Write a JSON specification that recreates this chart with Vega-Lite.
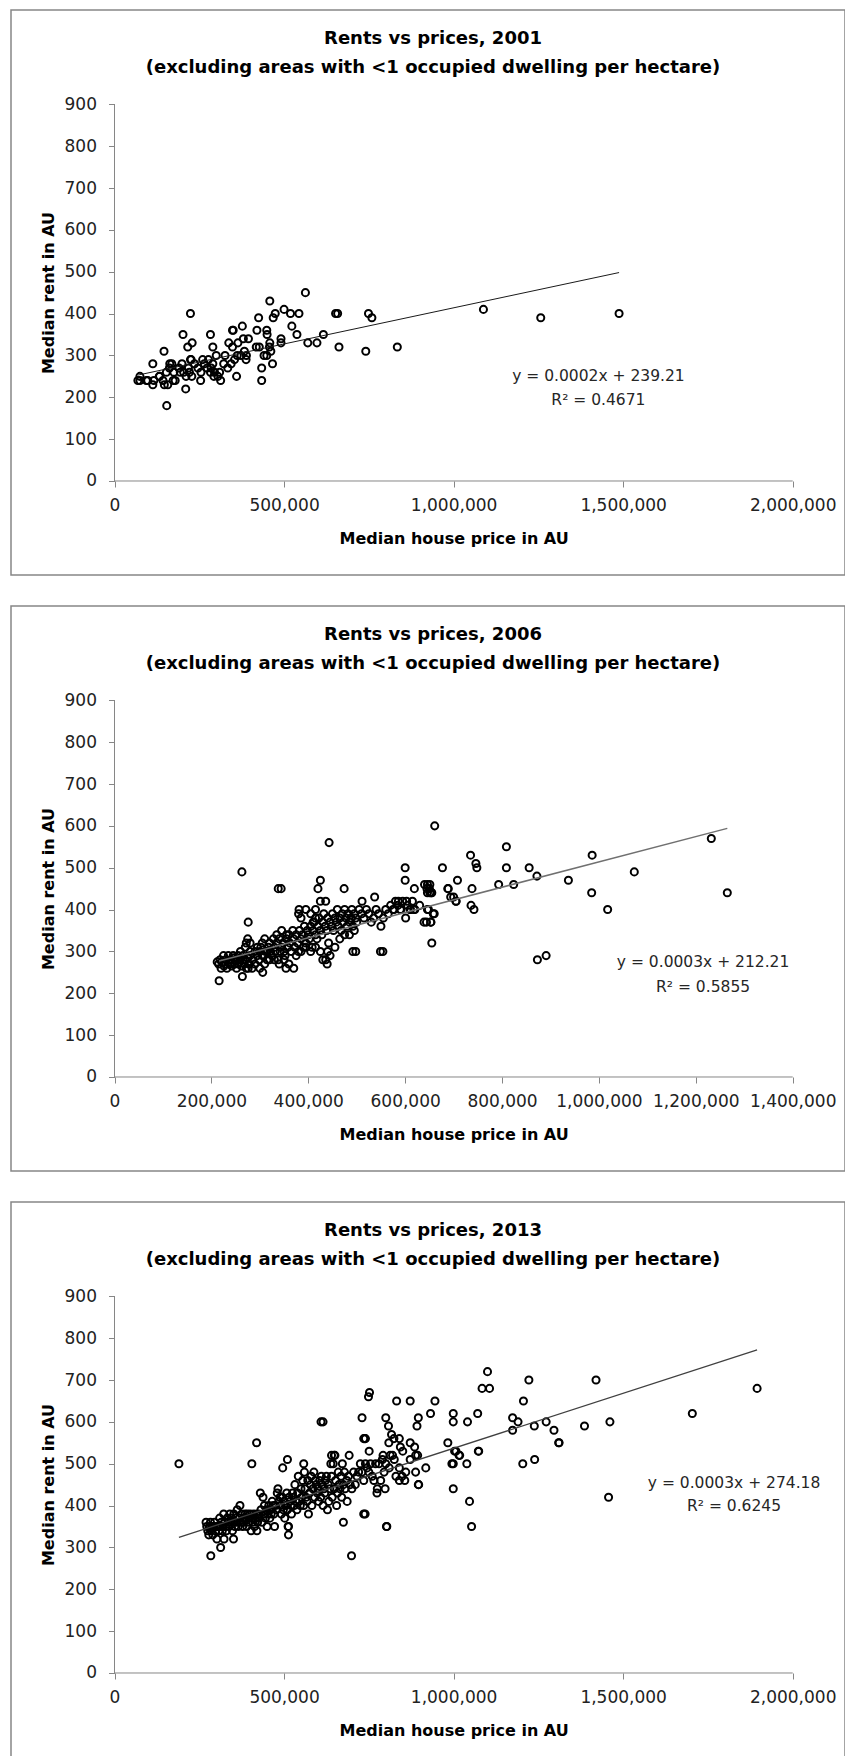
{
"$schema": "https://vega.github.io/schema/vega-lite/v6.json",
"padding": {"left": 10, "top": 9, "right": 0, "bottom": 0},
"spacing": 29,
"config": {
  "view": {"stroke": "#868686", "strokeWidth": 1.5},
  "font": "DejaVu Sans",
  "axis": {"grid": false, "domain": false, "tickColor": "#868686", "tickSize": 6, "tickWidth": 1, "labelFont": "DejaVu Sans", "labelFontSize": 17, "labelColor": "#222222", "titleFont": "DejaVu Sans", "titleFontSize": 16, "titleFontWeight": "bold", "titleColor": "#000000", "labelOverlap": false, "labelFlush": false},
  "title": {"font": "DejaVu Sans", "fontSize": 18, "fontWeight": "bold", "color": "#000000", "anchor": "middle", "lineHeight": 29, "baseline": "bottom", "offset": -67, "dx": 5}
},
"datasets": {
  "p2001": [
{"price":69000,"rent":240},{"price":75000,"rent":250},{"price":75000,"rent":240},{"price":94000,"rent":240},{"price":98000,"rent":240},{"price":113000,"rent":280},{"price":113000,"rent":230},{"price":116000,"rent":240},{"price":132000,"rent":250},{"price":133000,"rent":250},{"price":143000,"rent":240},{"price":146000,"rent":310},{"price":147000,"rent":230},{"price":153000,"rent":260},{"price":154000,"rent":180},{"price":157000,"rent":230},{"price":162000,"rent":270},{"price":163000,"rent":280},{"price":169000,"rent":280},{"price":173000,"rent":240},{"price":175000,"rent":260},{"price":179000,"rent":240},{"price":190000,"rent":270},{"price":194000,"rent":260},{"price":199000,"rent":280},{"price":202000,"rent":350},{"price":204000,"rent":260},{"price":210000,"rent":220},{"price":211000,"rent":250},{"price":216000,"rent":320},{"price":218000,"rent":270},{"price":221000,"rent":260},{"price":224000,"rent":400},{"price":224000,"rent":290},{"price":226000,"rent":290},{"price":228000,"rent":250},{"price":229000,"rent":330},{"price":236000,"rent":280},{"price":246000,"rent":270},{"price":254000,"rent":240},{"price":255000,"rent":260},{"price":260000,"rent":290},{"price":265000,"rent":280},{"price":273000,"rent":270},{"price":277000,"rent":290},{"price":283000,"rent":350},{"price":283000,"rent":260},{"price":285000,"rent":270},{"price":290000,"rent":320},{"price":290000,"rent":280},{"price":293000,"rent":250},{"price":295000,"rent":260},{"price":300000,"rent":300},{"price":305000,"rent":250},{"price":310000,"rent":260},{"price":313000,"rent":240},{"price":322000,"rent":280},{"price":326000,"rent":300},{"price":334000,"rent":270},{"price":337000,"rent":330},{"price":344000,"rent":280},{"price":348000,"rent":360},{"price":348000,"rent":320},{"price":350000,"rent":360},{"price":354000,"rent":290},{"price":360000,"rent":250},{"price":362000,"rent":300},{"price":364000,"rent":330},{"price":373000,"rent":300},{"price":377000,"rent":370},{"price":380000,"rent":340},{"price":383000,"rent":310},{"price":388000,"rent":290},{"price":389000,"rent":300},{"price":395000,"rent":340},{"price":418000,"rent":320},{"price":420000,"rent":360},{"price":425000,"rent":390},{"price":427000,"rent":320},{"price":434000,"rent":270},{"price":434000,"rent":240},{"price":441000,"rent":300},{"price":449000,"rent":300},{"price":449000,"rent":360},{"price":450000,"rent":350},{"price":457000,"rent":320},{"price":458000,"rent":430},{"price":458000,"rent":330},{"price":461000,"rent":310},{"price":466000,"rent":280},{"price":468000,"rent":390},{"price":474000,"rent":400},{"price":491000,"rent":340},{"price":491000,"rent":330},{"price":500000,"rent":410},{"price":519000,"rent":400},{"price":523000,"rent":370},{"price":538000,"rent":350},{"price":544000,"rent":400},{"price":563000,"rent":450},{"price":570000,"rent":330},{"price":597000,"rent":330},{"price":616000,"rent":350},{"price":652000,"rent":400},{"price":658000,"rent":400},{"price":662000,"rent":320},{"price":741000,"rent":310},{"price":749000,"rent":400},{"price":759000,"rent":390},{"price":834000,"rent":320},{"price":1088000,"rent":410},{"price":1257000,"rent":390},{"price":1488000,"rent":400}
  ],
  "t2001": [{"price":69000,"rent":253},{"price":1488000,"rent":498}],
  "p2006": [
{"price":661000,"rent":600},{"price":443000,"rent":560},{"price":263000,"rent":490},{"price":338000,"rent":450},{"price":344000,"rent":450},{"price":425000,"rent":470},{"price":420000,"rent":450},{"price":436000,"rent":420},{"price":474000,"rent":450},{"price":600000,"rent":500},{"price":600000,"rent":470},{"price":537000,"rent":430},{"price":511000,"rent":420},{"price":276000,"rent":370},{"price":381000,"rent":400},{"price":677000,"rent":500},{"price":735000,"rent":530},{"price":746000,"rent":510},{"price":748000,"rent":500},{"price":809000,"rent":550},{"price":809000,"rent":500},{"price":856000,"rent":500},{"price":872000,"rent":480},{"price":793000,"rent":460},{"price":824000,"rent":460},{"price":688000,"rent":450},{"price":694000,"rent":430},{"price":705000,"rent":420},{"price":708000,"rent":470},{"price":738000,"rent":450},{"price":736000,"rent":410},{"price":742000,"rent":400},{"price":646000,"rent":460},{"price":651000,"rent":460},{"price":646000,"rent":440},{"price":651000,"rent":440},{"price":646000,"rent":400},{"price":644000,"rent":370},{"price":653000,"rent":370},{"price":655000,"rent":320},{"price":658000,"rent":390},{"price":937000,"rent":470},{"price":986000,"rent":530},{"price":985000,"rent":440},{"price":1018000,"rent":400},{"price":1073000,"rent":490},{"price":1232000,"rent":570},{"price":1265000,"rent":440},{"price":873000,"rent":280},{"price":891000,"rent":290},{"price":492000,"rent":300},{"price":498000,"rent":300},{"price":549000,"rent":300},{"price":554000,"rent":300},{"price":216000,"rent":230},{"price":264000,"rent":240},{"price":306000,"rent":250},{"price":436000,"rent":280},{"price":439000,"rent":270},{"price":354000,"rent":260},{"price":370000,"rent":260},
{"price":619000,"rent":450},{"price":650000,"rent":450},{"price":654000,"rent":440},{"price":689000,"rent":450},{"price":700000,"rent":430},{"price":705000,"rent":420},{"price":660000,"rent":390},{"price":653000,"rent":370},{"price":639000,"rent":370},{"price":601000,"rent":380},{"price":591000,"rent":400},{"price":577000,"rent":400},{"price":570000,"rent":410},{"price":586000,"rent":420},{"price":603000,"rent":420},{"price":611000,"rent":400},{"price":618000,"rent":400},
{"price":215000,"rent":270},{"price":218000,"rent":280},{"price":220000,"rent":260},{"price":222000,"rent":275},{"price":225000,"rent":290},{"price":228000,"rent":270},{"price":230000,"rent":280},{"price":232000,"rent":260},{"price":235000,"rent":290},{"price":238000,"rent":270},{"price":240000,"rent":280},{"price":242000,"rent":265},{"price":245000,"rent":290},{"price":248000,"rent":270},{"price":250000,"rent":280},{"price":252000,"rent":260},{"price":255000,"rent":290},{"price":258000,"rent":275},{"price":260000,"rent":280},{"price":262000,"rent":265},{"price":265000,"rent":290},{"price":268000,"rent":270},{"price":270000,"rent":280},{"price":272000,"rent":260},{"price":275000,"rent":285},{"price":278000,"rent":270},{"price":280000,"rent":290},{"price":226000,"rent":265},{"price":236000,"rent":275},{"price":246000,"rent":285},{"price":256000,"rent":270},{"price":266000,"rent":280},{"price":276000,"rent":260},{"price":212000,"rent":275},{"price":260000,"rent":300},{"price":270000,"rent":310},{"price":272000,"rent":320},{"price":275000,"rent":330},{"price":280000,"rent":300},{"price":284000,"rent":260},{"price":290000,"rent":270},{"price":295000,"rent":290},{"price":300000,"rent":300},{"price":298000,"rent":280},{"price":302000,"rent":310},{"price":305000,"rent":320},{"price":308000,"rent":290},{"price":310000,"rent":330},{"price":312000,"rent":300},{"price":315000,"rent":280},{"price":318000,"rent":310},{"price":320000,"rent":320},{"price":322000,"rent":300},{"price":325000,"rent":290},{"price":328000,"rent":330},{"price":330000,"rent":310},{"price":332000,"rent":300},{"price":335000,"rent":320},{"price":338000,"rent":280},{"price":340000,"rent":330},{"price":342000,"rent":300},{"price":345000,"rent":310},{"price":348000,"rent":320},{"price":350000,"rent":300},{"price":352000,"rent":290},{"price":355000,"rent":330},{"price":358000,"rent":310},{"price":360000,"rent":340},{"price":362000,"rent":320},{"price":365000,"rent":300},{"price":368000,"rent":350},{"price":370000,"rent":330},{"price":372000,"rent":310},{"price":375000,"rent":340},{"price":378000,"rent":320},{"price":380000,"rent":300},{"price":382000,"rent":350},{"price":385000,"rent":330},{"price":388000,"rent":340},{"price":390000,"rent":310},{"price":392000,"rent":360},{"price":395000,"rent":320},{"price":398000,"rent":350},{"price":400000,"rent":340},{"price":402000,"rent":330},{"price":405000,"rent":360},{"price":408000,"rent":310},{"price":410000,"rent":350},{"price":412000,"rent":370},{"price":415000,"rent":340},{"price":418000,"rent":330},{"price":420000,"rent":360},{"price":422000,"rent":380},{"price":425000,"rent":350},{"price":428000,"rent":340},{"price":430000,"rent":370},{"price":432000,"rent":390},{"price":435000,"rent":360},{"price":438000,"rent":350},{"price":440000,"rent":380},{"price":442000,"rent":320},{"price":445000,"rent":370},{"price":448000,"rent":360},{"price":450000,"rent":390},{"price":452000,"rent":350},{"price":455000,"rent":380},{"price":458000,"rent":370},{"price":460000,"rent":400},{"price":462000,"rent":360},{"price":465000,"rent":380},{"price":468000,"rent":350},{"price":470000,"rent":390},{"price":472000,"rent":370},{"price":475000,"rent":400},{"price":478000,"rent":380},{"price":480000,"rent":360},{"price":482000,"rent":390},{"price":485000,"rent":370},{"price":488000,"rent":380},{"price":490000,"rent":400},{"price":492000,"rent":360},{"price":495000,"rent":390},{"price":498000,"rent":380},{"price":500000,"rent":370},{"price":505000,"rent":400},{"price":510000,"rent":390},{"price":515000,"rent":380},{"price":520000,"rent":400},{"price":525000,"rent":390},{"price":530000,"rent":370},{"price":535000,"rent":380},{"price":540000,"rent":400},{"price":545000,"rent":390},{"price":550000,"rent":360},{"price":555000,"rent":380},{"price":560000,"rent":400},{"price":565000,"rent":390},{"price":575000,"rent":400},{"price":580000,"rent":420},{"price":585000,"rent":410},{"price":590000,"rent":400},{"price":595000,"rent":420},{"price":605000,"rent":410},{"price":610000,"rent":400},{"price":615000,"rent":420},{"price":620000,"rent":400},{"price":630000,"rent":410},{"price":640000,"rent":460},{"price":645000,"rent":450},{"price":655000,"rent":440},{"price":648000,"rent":400},
{"price":330000,"rent":280},{"price":340000,"rent":270},{"price":350000,"rent":280},{"price":360000,"rent":270},{"price":375000,"rent":290},{"price":385000,"rent":300},{"price":395000,"rent":310},{"price":405000,"rent":300},{"price":415000,"rent":310},{"price":425000,"rent":300},{"price":430000,"rent":280},{"price":440000,"rent":300},{"price":445000,"rent":290},{"price":455000,"rent":310},{"price":465000,"rent":330},{"price":475000,"rent":340},{"price":485000,"rent":340},{"price":495000,"rent":350},{"price":300000,"rent":260},{"price":310000,"rent":270},{"price":320000,"rent":280},{"price":290000,"rent":300},{"price":295000,"rent":310},{"price":305000,"rent":290},{"price":315000,"rent":300},{"price":285000,"rent":280},{"price":280000,"rent":320},{"price":355000,"rent":340},{"price":345000,"rent":350},{"price":335000,"rent":340},{"price":385000,"rent":380},{"price":395000,"rent":400},{"price":405000,"rent":390},{"price":415000,"rent":400},{"price":425000,"rent":420},{"price":415000,"rent":380},{"price":380000,"rent":390},{"price":410000,"rent":370}
  ],
  "t2006": [{"price":216000,"rent":277},{"price":1265000,"rent":594}],
  "p2013": [
{"price":190000,"rent":500},{"price":405000,"rent":500},{"price":419000,"rent":550},{"price":510000,"rent":510},{"price":496000,"rent":490},{"price":558000,"rent":500},{"price":640000,"rent":520},{"price":648000,"rent":520},{"price":692000,"rent":520},{"price":735000,"rent":560},{"price":751000,"rent":530},{"price":740000,"rent":560},{"price":809000,"rent":550},{"price":792000,"rent":520},{"price":813000,"rent":520},{"price":843000,"rent":540},{"price":850000,"rent":530},{"price":872000,"rent":550},{"price":885000,"rent":540},{"price":894000,"rent":520},{"price":918000,"rent":490},{"price":983000,"rent":550},{"price":1003000,"rent":530},{"price":1016000,"rent":520},{"price":995000,"rent":500},{"price":1039000,"rent":500},{"price":1073000,"rent":530},{"price":1204000,"rent":500},{"price":1239000,"rent":510},{"price":1310000,"rent":550},{"price":999000,"rent":440},{"price":1047000,"rent":410},{"price":1053000,"rent":350},{"price":803000,"rent":350},{"price":897000,"rent":450},{"price":840000,"rent":460},{"price":774000,"rent":430},{"price":798000,"rent":440},{"price":735000,"rent":380},{"price":675000,"rent":360},{"price":686000,"rent":410},{"price":699000,"rent":280},{"price":284000,"rent":280},{"price":313000,"rent":300},{"price":513000,"rent":330},{"price":513000,"rent":350},{"price":323000,"rent":320},{"price":351000,"rent":320},
{"price":1895000,"rent":680},{"price":1704000,"rent":620},{"price":1461000,"rent":600},{"price":1457000,"rent":420},{"price":1420000,"rent":700},{"price":1386000,"rent":590},{"price":1311000,"rent":550},{"price":1296000,"rent":580},{"price":1273000,"rent":600},{"price":1238000,"rent":590},{"price":1222000,"rent":700},{"price":1206000,"rent":650},{"price":1190000,"rent":600},{"price":1174000,"rent":610},{"price":1174000,"rent":580},{"price":1100000,"rent":720},{"price":1084000,"rent":680},{"price":1106000,"rent":680},{"price":1071000,"rent":620},{"price":1074000,"rent":530},{"price":1041000,"rent":600},{"price":999000,"rent":620},{"price":999000,"rent":600},{"price":999000,"rent":500},{"price":1007000,"rent":530},{"price":1018000,"rent":520},{"price":932000,"rent":620},{"price":945000,"rent":650},{"price":896000,"rent":610},{"price":892000,"rent":590},{"price":896000,"rent":450},{"price":872000,"rent":650},{"price":800000,"rent":610},{"price":808000,"rent":590},{"price":817000,"rent":570},{"price":752000,"rent":670},{"price":749000,"rent":660},{"price":730000,"rent":610},{"price":738000,"rent":560},{"price":609000,"rent":600},{"price":615000,"rent":600},{"price":739000,"rent":380},{"price":802000,"rent":350},{"price":888000,"rent":520},{"price":848000,"rent":470},{"price":856000,"rent":460},{"price":859000,"rent":480},{"price":872000,"rent":510},{"price":888000,"rent":480},{"price":824000,"rent":560},{"price":840000,"rent":560},{"price":832000,"rent":650},
{"price":270000,"rent":360},{"price":272000,"rent":350},{"price":275000,"rent":340},{"price":278000,"rent":330},{"price":280000,"rent":350},{"price":283000,"rent":360},{"price":285000,"rent":340},{"price":288000,"rent":350},{"price":290000,"rent":330},{"price":292000,"rent":350},{"price":295000,"rent":360},{"price":298000,"rent":340},{"price":300000,"rent":350},{"price":302000,"rent":320},{"price":305000,"rent":350},{"price":308000,"rent":340},{"price":310000,"rent":370},{"price":312000,"rent":350},{"price":315000,"rent":360},{"price":318000,"rent":340},{"price":320000,"rent":350},{"price":322000,"rent":380},{"price":325000,"rent":360},{"price":328000,"rent":350},{"price":330000,"rent":340},{"price":332000,"rent":370},{"price":335000,"rent":360},{"price":338000,"rent":350},{"price":340000,"rent":380},{"price":342000,"rent":360},{"price":345000,"rent":370},{"price":348000,"rent":340},{"price":350000,"rent":360},{"price":352000,"rent":380},{"price":355000,"rent":350},{"price":358000,"rent":370},{"price":360000,"rent":360},{"price":362000,"rent":390},{"price":365000,"rent":350},{"price":368000,"rent":370},{"price":370000,"rent":400},{"price":372000,"rent":360},{"price":375000,"rent":380},{"price":378000,"rent":350},{"price":380000,"rent":370},{"price":382000,"rent":360},{"price":385000,"rent":380},{"price":388000,"rent":370},{"price":390000,"rent":350},{"price":392000,"rent":380},{"price":395000,"rent":360},{"price":398000,"rent":370},{"price":400000,"rent":380},{"price":403000,"rent":340},{"price":405000,"rent":370},{"price":408000,"rent":360},{"price":410000,"rent":380},{"price":413000,"rent":350},{"price":415000,"rent":370},{"price":418000,"rent":380},{"price":420000,"rent":340},{"price":422000,"rent":360},{"price":425000,"rent":380},{"price":428000,"rent":370},{"price":430000,"rent":430},{"price":432000,"rent":390},{"price":435000,"rent":360},{"price":438000,"rent":420},{"price":440000,"rent":380},{"price":442000,"rent":400},{"price":445000,"rent":370},{"price":448000,"rent":390},{"price":450000,"rent":350},{"price":452000,"rent":380},{"price":455000,"rent":400},{"price":458000,"rent":370},{"price":460000,"rent":390},{"price":462000,"rent":380},{"price":465000,"rent":410},{"price":468000,"rent":400},{"price":470000,"rent":380},{"price":472000,"rent":350},{"price":475000,"rent":400},{"price":478000,"rent":390},{"price":480000,"rent":430},{"price":482000,"rent":440},{"price":485000,"rent":410},{"price":488000,"rent":420},{"price":490000,"rent":400},{"price":492000,"rent":380},{"price":495000,"rent":420},{"price":498000,"rent":390},{"price":500000,"rent":410},{"price":502000,"rent":370},{"price":505000,"rent":400},{"price":508000,"rent":430},{"price":510000,"rent":390},{"price":512000,"rent":350},{"price":515000,"rent":420},{"price":518000,"rent":410},{"price":520000,"rent":400},{"price":522000,"rent":380},{"price":525000,"rent":430},{"price":528000,"rent":420},{"price":530000,"rent":400},{"price":532000,"rent":450},{"price":535000,"rent":410},{"price":538000,"rent":390},{"price":540000,"rent":430},{"price":542000,"rent":470},{"price":545000,"rent":410},{"price":548000,"rent":400},{"price":550000,"rent":440},{"price":552000,"rent":420},{"price":555000,"rent":460},{"price":558000,"rent":400},{"price":560000,"rent":480},{"price":562000,"rent":440},{"price":565000,"rent":420},{"price":568000,"rent":410},{"price":570000,"rent":460},{"price":572000,"rent":380},{"price":575000,"rent":430},{"price":578000,"rent":450},{"price":580000,"rent":470},{"price":582000,"rent":400},{"price":585000,"rent":440},{"price":588000,"rent":480},{"price":590000,"rent":420},{"price":592000,"rent":460},{"price":595000,"rent":450},{"price":598000,"rent":430},{"price":600000,"rent":440},{"price":602000,"rent":410},{"price":605000,"rent":460},{"price":608000,"rent":420},{"price":610000,"rent":470},{"price":612000,"rent":450},{"price":615000,"rent":400},{"price":618000,"rent":440},{"price":620000,"rent":430},{"price":622000,"rent":460},{"price":625000,"rent":470},{"price":628000,"rent":390},{"price":630000,"rent":450},{"price":632000,"rent":410},{"price":635000,"rent":440},{"price":638000,"rent":500},{"price":640000,"rent":470},{"price":642000,"rent":420},{"price":645000,"rent":500},{"price":648000,"rent":440},{"price":650000,"rent":520},{"price":652000,"rent":460},{"price":655000,"rent":400},{"price":658000,"rent":430},{"price":660000,"rent":480},{"price":662000,"rent":450},{"price":665000,"rent":440},{"price":668000,"rent":470},{"price":670000,"rent":420},{"price":672000,"rent":500},{"price":675000,"rent":450},{"price":678000,"rent":480},{"price":680000,"rent":440},{"price":685000,"rent":460},{"price":690000,"rent":470},{"price":695000,"rent":450},{"price":700000,"rent":440},{"price":705000,"rent":480},{"price":710000,"rent":450},{"price":715000,"rent":470},{"price":720000,"rent":480},{"price":725000,"rent":500},{"price":730000,"rent":480},{"price":735000,"rent":460},{"price":740000,"rent":500},{"price":745000,"rent":490},{"price":750000,"rent":480},{"price":755000,"rent":500},{"price":760000,"rent":470},{"price":765000,"rent":460},{"price":770000,"rent":500},{"price":775000,"rent":440},{"price":780000,"rent":500},{"price":785000,"rent":460},{"price":790000,"rent":510},{"price":795000,"rent":480},{"price":800000,"rent":500},{"price":810000,"rent":490},{"price":820000,"rent":520},{"price":825000,"rent":510},{"price":830000,"rent":470},{"price":840000,"rent":490}
  ],
  "t2013": [{"price":190000,"rent":324},{"price":1895000,"rent":772}]
},
"vconcat": [
 {
  "width": 834, "height": 565,
  "title": {"text": ["Rents vs prices, 2001", "(excluding areas with <1 occupied dwelling per hectare)"]},
  "layer": [
   {"data": {"name": "p2001"}, "mark": {"type": "point", "shape": "circle", "filled": false, "color": "#000000", "size": 50, "strokeWidth": 2, "opacity": 1},
    "encoding": {
     "x": {"field": "price", "type": "quantitative", "scale": {"domain": [-305220, 2154232], "nice": false, "zero": false}, "axis": {"values": [0, 500000, 1000000, 1500000, 2000000], "format": ",d", "offset": -94, "labelPadding": 10, "title": "Median house price in AU", "titleX": 442.6, "titleY": 57, "titleAlign": "center", "titleBaseline": "middle"}},
     "y": {"field": "rent", "type": "quantitative", "scale": {"domain": [-224.6, 1125.3], "nice": false, "zero": false}, "axis": {"values": [0, 100, 200, 300, 400, 500, 600, 700, 800, 900], "offset": -103.5, "labelPadding": 12, "title": "Median rent in AU", "titleX": -66, "titleBaseline": "middle"}}
    }},
   {"data": {"values": [{}]}, "mark": {"type": "rule", "color": "#868686", "strokeWidth": 1}, "encoding": {"x": {"datum": 0, "type": "quantitative"}, "x2": {"datum": 2000000}, "y": {"datum": 0, "type": "quantitative"}}},
   {"data": {"values": [{}]}, "mark": {"type": "rule", "color": "#868686", "strokeWidth": 1}, "encoding": {"x": {"datum": 0, "type": "quantitative"}, "y": {"datum": 0, "type": "quantitative"}, "y2": {"datum": 900}}},
   {"data": {"name": "t2001"}, "mark": {"type": "line", "color": "#1a1a1a", "strokeWidth": 1}, "encoding": {"x": {"field": "price", "type": "quantitative"}, "y": {"field": "rent", "type": "quantitative"}}},
   {"data": {"values": [{}]}, "mark": {"type": "text", "font": "DejaVu Sans", "fontSize": 15.5, "color": "#262626", "align": "center", "baseline": "middle"}, "encoding": {"x": {"datum": 1427000, "type": "quantitative"}, "y": {"datum": 252, "type": "quantitative"}, "text": {"value": "y = 0.0002x + 239.21"}}},
   {"data": {"values": [{}]}, "mark": {"type": "text", "font": "DejaVu Sans", "fontSize": 15.5, "color": "#262626", "align": "center", "baseline": "middle"}, "encoding": {"x": {"datum": 1427000, "type": "quantitative"}, "y": {"datum": 194, "type": "quantitative"}, "text": {"value": "R² = 0.4671"}}}
  ]
 },
 {
  "width": 834, "height": 565,
  "title": {"text": ["Rents vs prices, 2006", "(excluding areas with <1 occupied dwelling per hectare)"]},
  "layer": [
   {"data": {"name": "p2006"}, "mark": {"type": "point", "shape": "circle", "filled": false, "color": "#000000", "size": 50, "strokeWidth": 2, "opacity": 1},
    "encoding": {
     "x": {"field": "price", "type": "quantitative", "scale": {"domain": [-213654, 1507962], "nice": false, "zero": false}, "axis": {"values": [0, 200000, 400000, 600000, 800000, 1000000, 1200000, 1400000], "format": ",d", "offset": -94, "labelPadding": 10, "title": "Median house price in AU", "titleX": 442.6, "titleY": 57, "titleAlign": "center", "titleBaseline": "middle"}},
     "y": {"field": "rent", "type": "quantitative", "scale": {"domain": [-224.6, 1125.3], "nice": false, "zero": false}, "axis": {"values": [0, 100, 200, 300, 400, 500, 600, 700, 800, 900], "offset": -103.5, "labelPadding": 12, "title": "Median rent in AU", "titleX": -66, "titleBaseline": "middle"}}
    }},
   {"data": {"values": [{}]}, "mark": {"type": "rule", "color": "#868686", "strokeWidth": 1}, "encoding": {"x": {"datum": 0, "type": "quantitative"}, "x2": {"datum": 1400000}, "y": {"datum": 0, "type": "quantitative"}}},
   {"data": {"values": [{}]}, "mark": {"type": "rule", "color": "#868686", "strokeWidth": 1}, "encoding": {"x": {"datum": 0, "type": "quantitative"}, "y": {"datum": 0, "type": "quantitative"}, "y2": {"datum": 900}}},
   {"data": {"name": "t2006"}, "mark": {"type": "line", "color": "#707070", "strokeWidth": 1.5}, "encoding": {"x": {"field": "price", "type": "quantitative"}, "y": {"field": "rent", "type": "quantitative"}}},
   {"data": {"values": [{}]}, "mark": {"type": "text", "font": "DejaVu Sans", "fontSize": 15.5, "color": "#262626", "align": "center", "baseline": "middle"}, "encoding": {"x": {"datum": 1215000, "type": "quantitative"}, "y": {"datum": 274, "type": "quantitative"}, "text": {"value": "y = 0.0003x + 212.21"}}},
   {"data": {"values": [{}]}, "mark": {"type": "text", "font": "DejaVu Sans", "fontSize": 15.5, "color": "#262626", "align": "center", "baseline": "middle"}, "encoding": {"x": {"datum": 1215000, "type": "quantitative"}, "y": {"datum": 216, "type": "quantitative"}, "text": {"value": "R² = 0.5855"}}}
  ]
 },
 {
  "width": 834, "height": 565,
  "title": {"text": ["Rents vs prices, 2013", "(excluding areas with <1 occupied dwelling per hectare)"]},
  "layer": [
   {"data": {"name": "p2013"}, "mark": {"type": "point", "shape": "circle", "filled": false, "color": "#000000", "size": 50, "strokeWidth": 2, "opacity": 1},
    "encoding": {
     "x": {"field": "price", "type": "quantitative", "scale": {"domain": [-305220, 2154232], "nice": false, "zero": false}, "axis": {"values": [0, 500000, 1000000, 1500000, 2000000], "format": ",d", "offset": -94, "labelPadding": 10, "title": "Median house price in AU", "titleX": 442.6, "titleY": 57, "titleAlign": "center", "titleBaseline": "middle"}},
     "y": {"field": "rent", "type": "quantitative", "scale": {"domain": [-224.6, 1125.3], "nice": false, "zero": false}, "axis": {"values": [0, 100, 200, 300, 400, 500, 600, 700, 800, 900], "offset": -103.5, "labelPadding": 12, "title": "Median rent in AU", "titleX": -66, "titleBaseline": "middle"}}
    }},
   {"data": {"values": [{}]}, "mark": {"type": "rule", "color": "#868686", "strokeWidth": 1}, "encoding": {"x": {"datum": 0, "type": "quantitative"}, "x2": {"datum": 2000000}, "y": {"datum": 0, "type": "quantitative"}}},
   {"data": {"values": [{}]}, "mark": {"type": "rule", "color": "#868686", "strokeWidth": 1}, "encoding": {"x": {"datum": 0, "type": "quantitative"}, "y": {"datum": 0, "type": "quantitative"}, "y2": {"datum": 900}}},
   {"data": {"name": "t2013"}, "mark": {"type": "line", "color": "#404040", "strokeWidth": 1.3}, "encoding": {"x": {"field": "price", "type": "quantitative"}, "y": {"field": "rent", "type": "quantitative"}}},
   {"data": {"values": [{}]}, "mark": {"type": "text", "font": "DejaVu Sans", "fontSize": 15.5, "color": "#262626", "align": "center", "baseline": "middle"}, "encoding": {"x": {"datum": 1827000, "type": "quantitative"}, "y": {"datum": 455, "type": "quantitative"}, "text": {"value": "y = 0.0003x + 274.18"}}},
   {"data": {"values": [{}]}, "mark": {"type": "text", "font": "DejaVu Sans", "fontSize": 15.5, "color": "#262626", "align": "center", "baseline": "middle"}, "encoding": {"x": {"datum": 1827000, "type": "quantitative"}, "y": {"datum": 400, "type": "quantitative"}, "text": {"value": "R² = 0.6245"}}}
  ]
 }
]
}
